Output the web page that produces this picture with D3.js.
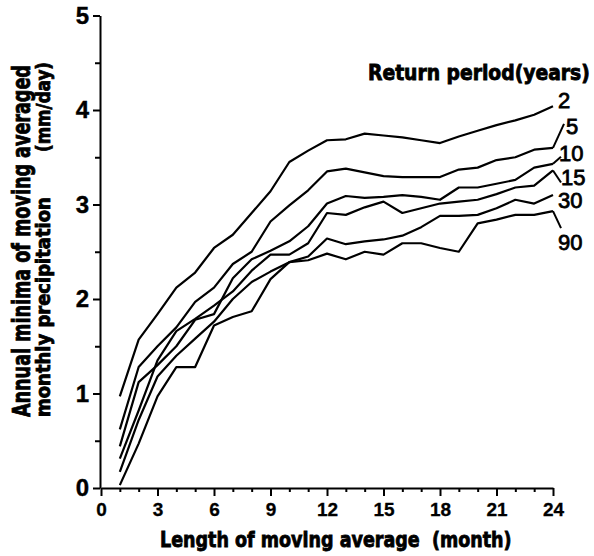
<!DOCTYPE html>
<html><head><meta charset="utf-8">
<script src="https://cdn.jsdelivr.net/npm/d3@7"></script>
<style>body{margin:0;background:#fff}svg{display:block}</style>
</head><body>
<script>
// ---- data ----
const months = d3.range(1, 25);
const returnPeriods = ["2", "5", "10", "15", "30", "90"];
const rp2  = [0.97,1.57,1.84,2.12,2.28,2.54,2.68,2.91,3.14,3.45,3.57,3.68,3.69,3.75,3.73,3.71,3.68,3.65,3.72,3.78,3.84,3.89,3.95,4.04];
const rp5  = [0.62,1.28,1.50,1.70,1.97,2.12,2.37,2.50,2.82,2.99,3.15,3.35,3.38,3.34,3.30,3.29,3.29,3.29,3.37,3.39,3.47,3.50,3.58,3.60];
const rp10 = [0.44,1.12,1.30,1.50,1.78,1.84,2.22,2.42,2.51,2.61,2.77,3.01,3.09,3.07,3.08,3.10,3.08,3.05,3.18,3.18,3.22,3.26,3.39,3.43];
const rp15 = [0.31,0.82,1.35,1.66,1.79,1.93,2.08,2.30,2.47,2.47,2.59,2.91,2.89,2.97,3.03,2.91,2.96,3.01,3.03,3.05,3.11,3.18,3.20,3.36];
const rp30 = [0.17,0.72,1.18,1.40,1.58,1.76,2.00,2.18,2.29,2.39,2.45,2.64,2.58,2.61,2.63,2.67,2.76,2.88,2.88,2.89,2.96,3.05,3.01,3.10];
const rp90 = [0.03,0.47,0.97,1.28,1.28,1.72,1.81,1.87,2.21,2.39,2.41,2.48,2.42,2.50,2.47,2.59,2.59,2.54,2.50,2.80,2.84,2.89,2.89,2.93];
const seriesValues = [rp2, rp5, rp10, rp15, rp30, rp90];
const xTickValues = [0, 3, 6, 9, 12, 15, 18, 21, 24];
const xTickLabels = ["0", "3", "6", "9", "12", "15", "18", "21", "24"];
const yTickValues = [0, 1, 2, 3, 4, 5];
const yTickLabels = ["0", "1", "2", "3", "4", "5"];
const xTitle = "Length of moving average  (month)";
const yTitle1 = "Annual minima of moving averaged";
const yTitle2 = "monthly precipitation";
const yTitleUnit = "(mm/day)";
const legendTitle = "Return period(years)";

// ---- layout ----
const W = 594, H = 556;
const x = d3.scaleLinear().domain([0, 24]).range([101, 553]);
const y = d3.scaleLinear().domain([0, 5]).range([488, 15.5]);
const heavy = "'Liberation Sans Narrow','DejaVu Sans Condensed','Liberation Sans',Arial,sans-serif";
const plain = "'Liberation Sans',Arial,Helvetica,sans-serif";

const svg = d3.select("body").append("svg").attr("width", W).attr("height", H);

// minor x ticks
svg.append("g").attr("transform", `translate(0,${y(0)})`)
  .call(d3.axisBottom(x).tickValues(months.filter(m => m % 3 !== 0)).tickSize(4).tickFormat(""))
  .call(g => g.select(".domain").remove())
  .call(g => g.selectAll("line").attr("stroke-width", 2));
// major x axis
svg.append("g").attr("transform", `translate(0,${y(0)})`)
  .call(d3.axisBottom(x).tickValues(xTickValues).tickSizeInner(8).tickSizeOuter(0).tickPadding(7)
    .tickFormat((d, i) => xTickLabels[i]))
  .call(g => g.select(".domain").attr("stroke-width", 2))
  .call(g => g.selectAll("line").attr("stroke-width", 2))
  .call(g => g.selectAll("text").attr("font-family", plain).attr("font-weight", "bold").attr("font-size", 19)
    .attr("fill", "#000").attr("stroke", "#000").attr("stroke-width", 0.3));
// minor y ticks
svg.append("g").attr("transform", `translate(${x(0) - 1},0)`)
  .call(d3.axisLeft(y).tickValues([0.5, 1.5, 2.5, 3.5, 4.5]).tickSize(5).tickFormat(""))
  .call(g => g.select(".domain").remove())
  .call(g => g.selectAll("line").attr("stroke-width", 2));
// major y axis
svg.append("g").attr("transform", `translate(${x(0) - 1},0)`)
  .call(d3.axisLeft(y).tickValues(yTickValues).tickSizeInner(7).tickSizeOuter(0).tickPadding(4)
    .tickFormat((d, i) => yTickLabels[i]))
  .call(g => g.select(".domain").attr("stroke-width", 2))
  .call(g => g.selectAll("line").attr("stroke-width", 2))
  .call(g => g.selectAll("text").attr("font-family", plain).attr("font-weight", "bold").attr("font-size", 24)
    .attr("fill", "#000").attr("stroke", "#000").attr("stroke-width", 0.4));

// series lines
const line = d3.line().x((d, i) => x(months[i])).y(d => y(d));
svg.append("g").selectAll("path").data(seriesValues).join("path")
  .attr("d", line).attr("fill", "none").attr("stroke", "#000")
  .attr("stroke-width", 2.2).attr("stroke-linejoin", "round");

// series labels with leaders (offsets from the line ends)
const labelLayout = [
  {dx: 5, dy: 2, leader: null},
  {dx: 13, dy: -14, leader: [11, -24]},
  {dx: 6, dy: -3, leader: [8, -7]},
  {dx: 8, dy: 15, leader: [8, 12]},
  {dx: 5, dy: 13, leader: null},
  {dx: 5, dy: 39, leader: [8, 17]}
];
returnPeriods.forEach((lab, i) => {
  const vals = seriesValues[i];
  const ex = x(months[months.length - 1]), ey = y(vals[vals.length - 1]);
  const L = labelLayout[i];
  if (L.leader) {
    svg.append("line").attr("x1", ex).attr("y1", ey).attr("x2", ex + L.leader[0]).attr("y2", ey + L.leader[1])
      .attr("stroke", "#000").attr("stroke-width", 2);
  }
  svg.append("text").attr("x", ex + L.dx).attr("y", ey + L.dy)
    .attr("font-family", plain).attr("font-size", 22).attr("fill", "#000")
    .attr("stroke", "#000").attr("stroke-width", 0.8).text(lab);
});

// squeezed heavy text: placed at (tx,ty), rotated, horizontally scaled to a target length
function squeezed(str, tx, ty, rot, size, targetLen) {
  const g = svg.append("g").attr("transform", `translate(${tx},${ty}) rotate(${rot})`);
  const t = g.append("text").style("white-space", "pre")
    .attr("font-family", heavy).attr("font-weight", "bold").attr("font-size", size)
    .attr("fill", "#000").attr("stroke", "#000").attr("stroke-width", 0.8).text(str);
  const len = t.node().getComputedTextLength();
  t.attr("transform", `scale(${targetLen / len},1)`);
}

squeezed(legendTitle, 368, 80, 0, 21, 222);
squeezed(xTitle, 160, 547, 0, 22, 352);
squeezed(yTitle1, 30, 417, -90, 24, 352);
squeezed(yTitle2, 50, 417, -90, 20, 220);
squeezed(yTitleUnit, 50, 152, -90, 20, 90);
</script>
</body></html>
